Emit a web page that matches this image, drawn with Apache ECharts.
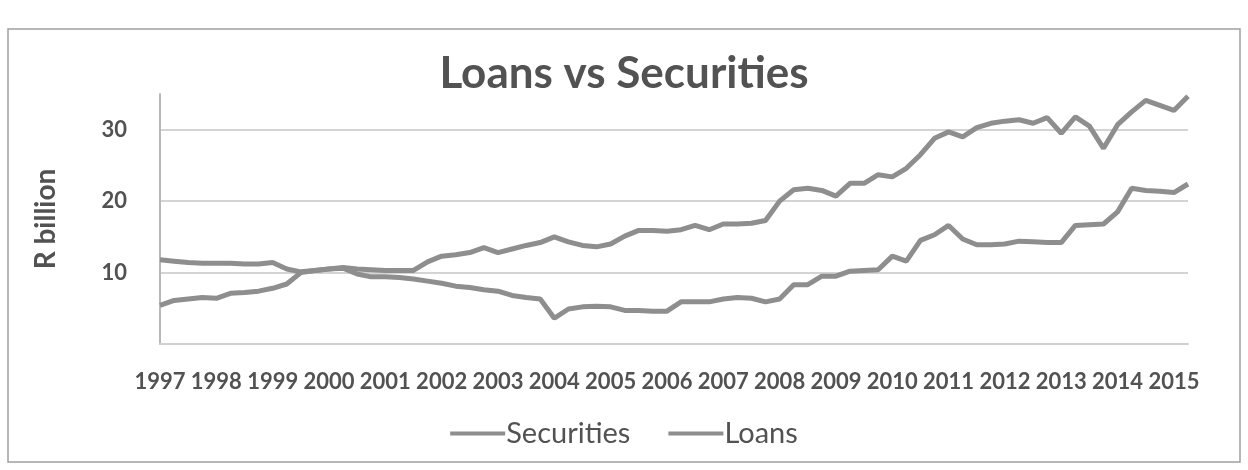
<!DOCTYPE html>
<html>
<head>
<meta charset="utf-8">
<script src="https://cdn.jsdelivr.net/npm/echarts@6/dist/echarts.min.js"></script>
<style>
html,body{margin:0;padding:0;background:#fff;}
#chart{width:1248px;height:470px;}
</style>
</head>
<body>
<div id="chart"></div>
<script>
const years = ['1997','1998','1999','2000','2001','2002','2003','2004','2005','2006','2007','2008','2009','2010','2011','2012','2013','2014','2015'];
const quarterCount = 74;
const yTicks = [10, 20, 30];

const securities = [
  11.8, 11.6, 11.4, 11.3, 11.3, 11.3, 11.2, 11.2, 11.4, 10.5,
  10.1, 10.3, 10.5, 10.6, 9.8, 9.4, 9.4, 9.3, 9.1, 8.8,
  8.5, 8.1, 7.9, 7.6, 7.4, 6.8, 6.5, 6.3, 3.6, 4.9,
  5.2, 5.3, 5.2, 4.7, 4.7, 4.6, 4.6, 5.9, 5.9, 5.9,
  6.3, 6.5, 6.4, 5.9, 6.3, 8.3, 8.3, 9.5, 9.5, 10.2,
  10.3, 10.4, 12.3, 11.6, 14.5, 15.3, 16.6, 14.7, 13.9, 13.9,
  14.0, 14.4, 14.3, 14.2, 14.2, 16.6, 16.7, 16.8, 18.5, 21.8,
  21.5, 21.4, 21.2, 22.4
];

const loans = [
  5.4, 6.1, 6.3, 6.5, 6.4, 7.1, 7.2, 7.4, 7.8, 8.4,
  10.0, 10.3, 10.5, 10.7, 10.5, 10.4, 10.3, 10.3, 10.3, 11.5,
  12.3, 12.5, 12.8, 13.5, 12.8, 13.3, 13.8, 14.2, 15.0, 14.3,
  13.8, 13.6, 14.0, 15.1, 15.9, 15.9, 15.8, 16.0, 16.6, 16.0,
  16.8, 16.8, 16.9, 17.3, 20.0, 21.6, 21.8, 21.5, 20.7, 22.5,
  22.5, 23.7, 23.4, 24.6, 26.5, 28.8, 29.7, 29.0, 30.3, 30.9,
  31.2, 31.4, 30.9, 31.7, 29.5, 31.8, 30.5, 27.4, 30.7, 32.5,
  34.1, 33.4, 32.7, 34.7
];

// quarterly categories built from the year list
const categories = [];
years.forEach(y => { for (let q = 1; q <= 4; q++) categories.push(y + ' Q' + q); });
categories.length = quarterCount;

const lineColor = '#8e8e8e';
const textColor = '#525252';
const font = 'Lato, "Open Sans", sans-serif';

const chart = echarts.init(document.getElementById('chart'), null, {renderer: 'canvas'});
chart.setOption({
  backgroundColor: '#ffffff',
  animation: false,
  title: {
    text: 'Loans vs Securities',
    left: 'center',
    top: 47,
    textStyle: {fontFamily: font, fontSize: 44, fontWeight: 'bold', color: textColor}
  },
  graphic: [{
    type: 'rect',
    shape: {x: 8, y: 29, width: 1232, height: 433},
    style: {fill: 'none', stroke: '#a0a0a0', lineWidth: 1.5},
    silent: true
  }],
  legend: {
    bottom: 17,
    left: 'center',
    itemWidth: 55,
    itemHeight: 4,
    itemGap: 38,
    icon: 'rect',
    textStyle: {fontFamily: font, fontSize: 29, color: textColor, padding: [0, 0, 0, -4]},
    data: ['Securities', 'Loans']
  },
  grid: {left: 160, right: 60, top: 94, height: 250},
  xAxis: {
    type: 'category',
    data: categories,
    boundaryGap: false,
    axisLine: {show: true, lineStyle: {color: '#d0d0d0', width: 2}},
    axisTick: {show: false},
    axisLabel: {
      interval: 3,
      margin: 27,
      fontFamily: font,
      fontSize: 22,
      fontWeight: 'bold',
      color: textColor,
      formatter: v => v.slice(0, 4)
    },
    splitLine: {show: false}
  },
  yAxis: {
    type: 'value',
    min: 0,
    max: 35,
    interval: 10,
    name: 'R billion',
    nameLocation: 'middle',
    nameGap: 100,
    nameRotate: 90,
    nameTextStyle: {fontFamily: font, fontSize: 28, fontWeight: 'bold', color: textColor},
    axisLine: {show: true, lineStyle: {color: '#b8b8b8', width: 2}},
    axisTick: {show: false},
    axisLabel: {
      margin: 33,
      fontFamily: font,
      fontSize: 22,
      fontWeight: 'bold',
      color: textColor,
      formatter: v => (yTicks.indexOf(v) >= 0 ? String(v) : '')
    },
    splitLine: {show: true, lineStyle: {color: ['#d4d4d4', '#d4d4d4', '#d4d4d4', '#d4d4d4', 'rgba(0,0,0,0)'], width: 2}}
  },
  series: [
    {
      name: 'Securities',
      type: 'line',
      data: securities,
      showSymbol: false,
      symbol: 'none',
      lineStyle: {color: lineColor, width: 5},
      itemStyle: {color: lineColor}
    },
    {
      name: 'Loans',
      type: 'line',
      data: loans,
      showSymbol: false,
      symbol: 'none',
      lineStyle: {color: lineColor, width: 5},
      itemStyle: {color: lineColor}
    }
  ]
});
</script>
</body>
</html>
